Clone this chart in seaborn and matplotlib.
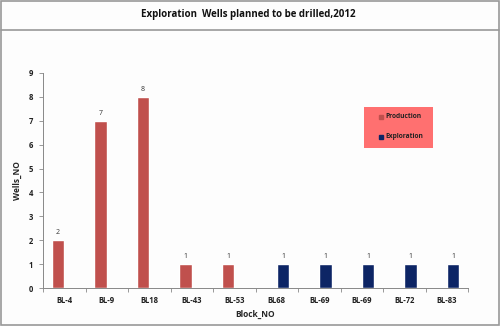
import matplotlib
matplotlib.use("Agg")
import matplotlib.pyplot as plt
import seaborn as sns
import pandas as pd
from matplotlib.patches import Rectangle
from matplotlib.lines import Line2D

blocks = ["BL-4", "BL-9", "BL18", "BL-43", "BL-53", "BL68", "BL-69", "BL-69", "BL-72", "BL-83"]
wells = [2, 7, 8, 1, 1, 1, 1, 1, 1, 1]
types = ["Production"] * 5 + ["Exploration"] * 5
yticks = list(range(0, 10))

sns.set_theme(style="white")
plt.rcParams['font.family'] = ['Open Sans', 'DejaVu Sans']

df = pd.DataFrame({"pos": list(range(len(blocks))), "wells": wells, "type": types})
colors = {"Production": "#C0504D", "Exploration": "#0D2565"}

fig = plt.figure(figsize=(5, 3.26), dpi=100)
fig.patch.set_facecolor("#FDFDFD")
ax = fig.add_axes([43/500, 1-288/326, (468-43)/500, (288-73)/326])
ax.set_facecolor("#FDFDFD")

sns.barplot(data=df, x="pos", y="wells", hue="type", hue_order=["Production", "Exploration"],
            dodge=True, width=0.59, gap=0, palette=colors, ax=ax, legend=False, saturation=1)

for c in ax.containers:
    ax.bar_label(c, fontsize=5, padding=3, color="#333333")

ax.set_ylim(0, 9)
ax.set_xlim(-0.5, len(blocks) - 0.5)
ax.set_yticks(yticks)
ax.set_yticklabels([str(v) for v in yticks], fontsize=5.5, fontweight="bold", color="#222222")
ax.set_xticks(range(len(blocks)))
ax.set_xticklabels(blocks, fontsize=5.5, fontweight="bold", color="#222222")
ax.tick_params(axis="x", length=0, pad=6)
ax.tick_params(axis="y", length=3, width=0.6, color="#888888", direction="out", left=True, pad=4)
ax.set_xticks([i + 0.5 for i in range(-1, len(blocks))], minor=True)
ax.tick_params(axis="x", which="minor", length=3, width=0.6, color="#888888", direction="out", bottom=True)

for s in ["top", "right"]:
    ax.spines[s].set_visible(False)
for s in ["left", "bottom"]:
    ax.spines[s].set_color("#888888")
    ax.spines[s].set_linewidth(0.7)

ax.set_xlabel("Block_NO", fontsize=6, fontweight="bold", labelpad=3)
ax.set_ylabel("Wells_NO", fontsize=6, fontweight="bold", labelpad=5)

# Legend box drawn manually
fig.add_artist(Rectangle((364/500, 1-148/326), 69/500, 41/326, transform=fig.transFigure,
                         facecolor="#FF7070", edgecolor="none"))
for t, yy in [("Production", 117), ("Exploration", 137)]:
    fig.add_artist(Line2D([381/500], [1-yy/326], marker="s", markersize=3,
                          markerfacecolor=colors[t], markeredgecolor=colors[t],
                          linestyle="none", transform=fig.transFigure))
    fig.text(385/500, 1-yy/326, t, ha="left", va="center", fontsize=4.8,
             fontweight="bold", color="#222222")

# Title band and borders
fig.text(0.497, 1-15/326, "Exploration  Wells planned to be drilled,2012",
         ha="center", va="center", fontsize=7, fontweight="bold", color="#111111")
fig.add_artist(Line2D([0.002, 0.998], [1-30/326, 1-30/326], color="#999999", lw=1.2,
                      transform=fig.transFigure))
fig.add_artist(Rectangle((0.002, 0.003), 0.996, 0.994, transform=fig.transFigure,
                         fill=False, edgecolor="#999999", lw=1.2))

fig.savefig("out.png", dpi=100, facecolor=fig.get_facecolor())
